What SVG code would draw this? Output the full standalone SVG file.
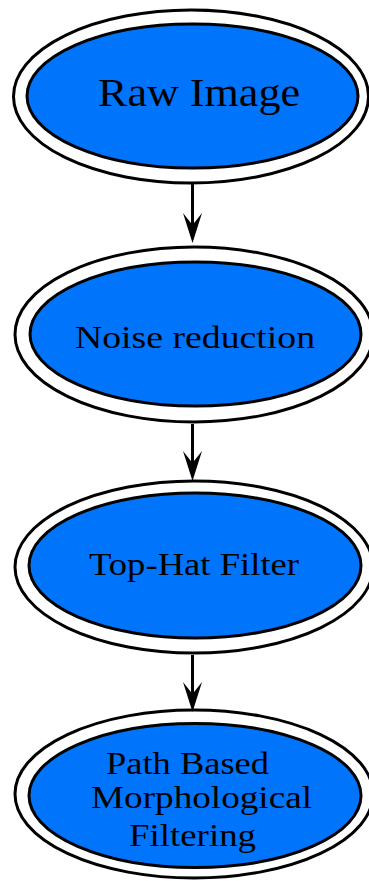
<svg xmlns="http://www.w3.org/2000/svg" width="369" height="881" viewBox="0 0 369 881">
<defs>
<style>
.outer{fill:#ffffff;stroke:#000;stroke-width:3}
.inner{fill:#0074fb;stroke:#000;stroke-width:3}
.lbl{font-family:"Liberation Serif","Times New Roman",serif;fill:#000}
.edge{stroke:#000;stroke-width:3;fill:none}
.head{fill:#000;stroke:none}
</style>
</defs>
<rect width="369" height="881" fill="#ffffff"/>
<g id="n1">
<ellipse class="outer" cx="191" cy="96.5" rx="177.5" ry="86.5"/>
<ellipse class="inner" cx="192.5" cy="96" rx="165.5" ry="72"/>
<text class="lbl" x="98" y="106" font-size="40" textLength="202" lengthAdjust="spacingAndGlyphs">Raw Image</text>
</g>
<g id="n2">
<ellipse class="outer" cx="194" cy="334.5" rx="179" ry="87.5"/>
<ellipse class="inner" cx="195.5" cy="334" rx="165.5" ry="72"/>
<text class="lbl" x="75" y="348" font-size="32" textLength="240" lengthAdjust="spacingAndGlyphs">Noise reduction</text>
</g>
<g id="n3">
<ellipse class="outer" cx="194" cy="567" rx="179" ry="86"/>
<ellipse class="inner" cx="195" cy="565.5" rx="166" ry="72.5"/>
<text class="lbl" x="89" y="575" font-size="32" textLength="210" lengthAdjust="spacingAndGlyphs">Top-Hat Filter</text>
</g>
<g id="n4">
<ellipse class="outer" cx="194" cy="794" rx="179" ry="84"/>
<ellipse class="inner" cx="195" cy="795.5" rx="166" ry="72"/>
<text class="lbl" x="106" y="774" font-size="32" textLength="163" lengthAdjust="spacingAndGlyphs">Path Based</text>
<text class="lbl" x="91" y="808" font-size="32" textLength="221" lengthAdjust="spacingAndGlyphs">Morphological</text>
<text class="lbl" x="129" y="846" font-size="32" textLength="127" lengthAdjust="spacingAndGlyphs">Filtering</text>
</g>
<g id="edges">
<line class="edge" x1="192.5" y1="184" x2="192.5" y2="226"/>
<path class="head" d="M192.5,243 L183,213 L192.5,225 L202,213 Z"/>
<line class="edge" x1="192.5" y1="424" x2="192.5" y2="464"/>
<path class="head" d="M192.5,481 L183,451 L192.5,463 L202,451 Z"/>
<line class="edge" x1="192.5" y1="655" x2="192.5" y2="695"/>
<path class="head" d="M192.5,712 L183,682 L192.5,694 L202,682 Z"/>
</g>
</svg>
